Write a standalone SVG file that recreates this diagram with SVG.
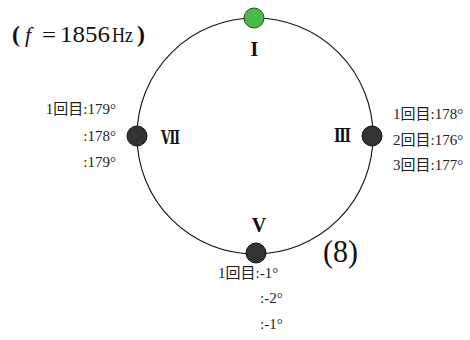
<svg xmlns="http://www.w3.org/2000/svg" width="470" height="340" viewBox="0 0 470 340">
<style>
.t{font-family:"Liberation Serif","Noto Sans CJK JP",serif;font-size:15px;fill:#222}
.r{font-family:"Liberation Serif","DejaVu Serif",serif;font-weight:bold;fill:#111}
.n{fill:#333;stroke:#111;stroke-width:1}
</style>
<rect width="470" height="340" fill="#fff"/>
<g id="title" font-family="Liberation Serif,serif" font-size="22" fill="#111">
<text x="12" y="42" font-weight="bold" font-size="24">(</text>
<text x="25" y="42" font-style="italic">f</text>
<text x="42" y="42" textLength="14" lengthAdjust="spacingAndGlyphs">=</text>
<text x="60" y="42" font-size="24" textLength="50" lengthAdjust="spacingAndGlyphs">1856</text>
<text x="112" y="42" textLength="21" lengthAdjust="spacingAndGlyphs">Hz</text>
<text x="137" y="42" font-weight="bold" font-size="24">)</text>
</g>
<g id="connectors">
<circle cx="255" cy="136" r="118" fill="none" stroke="#111" stroke-width="1.1"/>
</g>
<g id="node-I">
<circle cx="254" cy="18" r="10" fill="#4cb848" stroke="#1a5a1a" stroke-width="1"/>
<text class="r" x="254.5" y="56" font-size="20" text-anchor="middle">I</text>
</g>
<g id="node-VII">
<circle class="n" cx="137" cy="136" r="10"/>
<text class="r" x="161" y="144" font-size="19" textLength="19" lengthAdjust="spacingAndGlyphs">Ⅶ</text>
<text class="t" x="116" y="114" text-anchor="end">1回目:179°</text>
<text class="t" x="116" y="141" text-anchor="end">:178°</text>
<text class="t" x="116" y="167" text-anchor="end">:179°</text>
</g>
<g id="node-III">
<circle class="n" cx="372" cy="136" r="10"/>
<text class="r" x="334" y="142" font-size="18" textLength="17" lengthAdjust="spacingAndGlyphs">Ⅲ</text>
<text class="t" x="393" y="119">1回目:178°</text>
<text class="t" x="393" y="145">2回目:176°</text>
<text class="t" x="393" y="170">3回目:177°</text>
</g>
<g id="node-V">
<circle class="n" cx="256" cy="253" r="10"/>
<text class="r" x="259" y="232" font-size="20" text-anchor="middle">V</text>
<text class="t" x="218" y="278">1回目:-1°</text>
<text class="t" x="260" y="303">:-2°</text>
<text class="t" x="260" y="329">:-1°</text>
</g>
<text id="label-8" x="323" y="262" font-family="Liberation Serif,serif" font-size="32" textLength="35" lengthAdjust="spacingAndGlyphs" fill="#111">(8)</text>
</svg>
